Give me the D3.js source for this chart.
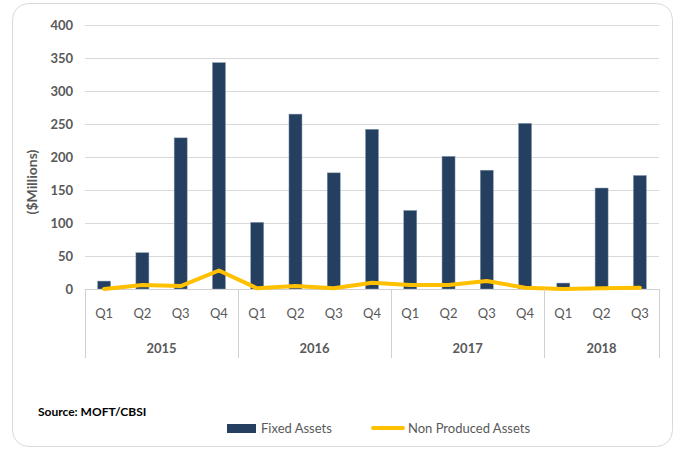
<!DOCTYPE html>
<html>
<head>
<meta charset="utf-8">
<script src="https://cdn.jsdelivr.net/npm/d3@7"></script>
<style>
  body { margin: 0; background: #fff; }
  text { font-family: Lato, "Liberation Sans", sans-serif; }
</style>
</head>
<body>
<div id="chart"></div>
<script>
// quarterly values, $ millions
var years        = ['2015', '2016', '2017', '2018'],
    quarters     = ['Q1', 'Q2', 'Q3', 'Q4', 'Q1', 'Q2', 'Q3', 'Q4', 'Q1', 'Q2', 'Q3', 'Q4', 'Q1', 'Q2', 'Q3'],
    quarterYear  = [0, 0, 0, 0, 1, 1, 1, 1, 2, 2, 2, 2, 3, 3, 3],
    fixedAssets  = [12, 55, 229, 343, 101, 265, 176, 242, 119, 201, 180, 251, 9, 153, 172],
    nonProduced  = [0, 6, 4.5, 28, 1, 4.5, 1, 9.5, 6, 6, 12, 2, 0, 1, 2],
    yTicks       = [0, 50, 100, 150, 200, 250, 300, 350, 400];

var width   = 678,
    height  = 452,
    plotL   = 85,
    plotR   = 659,
    plotT   = 25,
    plotB   = 289,
    grey    = '#595959',
    navy    = '#243F60',
    gold    = '#FFC000';

var svg = d3.select('#chart')
	.append('svg')
	.attr('width', width)
	.attr('height', height);

// rounded frame around the chart
svg.append('rect')
	.attr('x', 12.5)
	.attr('y', 3.5)
	.attr('width', 660)
	.attr('height', 443)
	.attr('rx', 16)
	.attr('fill', '#fff')
	.attr('stroke', '#d9d9d9');

var idx = d3.range(quarters.length);

var x = d3.scaleBand()
	.domain(idx)
	.range([plotL, plotR])
	.paddingInner(0.66)
	.paddingOuter(0.33);

var y = d3.scaleLinear()
	.domain([0, 400])
	.range([plotB, plotT]);

// gridlines
svg.append('g')
	.selectAll('line')
	.data(yTicks.slice(1))
	.enter()
	.append('line')
	.attr('x1', plotL)
	.attr('x2', plotR)
	.attr('y1', function(d){ return Math.round(y(d)) + 0.5; })
	.attr('y2', function(d){ return Math.round(y(d)) + 0.5; })
	.attr('stroke', '#d9d9d9')
	.attr('stroke-width', 1);

// y axis labels
var yAxis = svg.append('g')
	.attr('transform', 'translate(' + (plotL - 12) + ',0)')
	.call(d3.axisLeft(y).tickValues(yTicks).tickSize(0).tickPadding(0));
yAxis.select('.domain').remove();
yAxis.selectAll('text')
	.attr('font-size', 13)
	.attr('font-weight', 'bold')
	.attr('fill', grey)
	.style('font-family', 'Lato, "Liberation Sans", sans-serif');

svg.append('text')
	.attr('transform', 'translate(37,182) rotate(-90)')
	.attr('text-anchor', 'middle')
	.attr('font-size', 14)
	.attr('font-weight', 'bold')
	.attr('fill', grey)
	.text('($Millions)');

// bars
svg.append('g')
	.selectAll('rect')
	.data(fixedAssets)
	.enter()
	.append('rect')
	.attr('x', function(d, i){ return x(i); })
	.attr('y', function(d){ return y(d); })
	.attr('width', x.bandwidth())
	.attr('height', function(d){ return y(0) - y(d); })
	.attr('fill', navy)
	.attr('stroke', '#8a9bb0')
	.attr('stroke-width', 0.5);

// x axis baseline
svg.append('line')
	.attr('x1', plotL)
	.attr('x2', plotR)
	.attr('y1', plotB + 0.5)
	.attr('y2', plotB + 0.5)
	.attr('stroke', '#d0d0d0');

// line series
var line = d3.line()
	.x(function(d, i){ return x(i) + x.bandwidth() / 2; })
	.y(function(d){ return y(d); });

svg.append('path')
	.datum(nonProduced)
	.attr('d', line)
	.attr('fill', 'none')
	.attr('stroke', gold)
	.attr('stroke-width', 4)
	.attr('stroke-linejoin', 'round')
	.attr('stroke-linecap', 'round');

// quarter labels
svg.append('g')
	.selectAll('text')
	.data(quarters)
	.enter()
	.append('text')
	.attr('x', function(d, i){ return x(i) + x.bandwidth() / 2; })
	.attr('y', 318)
	.attr('text-anchor', 'middle')
	.attr('font-size', 13)
	.attr('fill', grey)
	.text(function(d){ return d; });

// year groups: span from the first to the last quarter of each year
var half = x.step() / 2;
var yearRanges = years.map(function(yr, k){
	var members = idx.filter(function(i){ return quarterYear[i] === k; });
	var c0 = x(members[0]) + x.bandwidth() / 2,
	    c1 = x(members[members.length - 1]) + x.bandwidth() / 2;
	return { year: yr, x0: Math.max(plotL, c0 - half), x1: Math.min(plotR, c1 + half) };
});

var sepX = [plotL].concat(yearRanges.map(function(r){ return r.x1; }));
svg.append('g')
	.selectAll('line')
	.data(sepX)
	.enter()
	.append('line')
	.attr('x1', function(d){ return Math.round(d) + 0.5; })
	.attr('x2', function(d){ return Math.round(d) + 0.5; })
	.attr('y1', plotB)
	.attr('y2', 358)
	.attr('stroke', '#d0d0d0');

svg.append('g')
	.selectAll('text')
	.data(yearRanges)
	.enter()
	.append('text')
	.attr('x', function(d){ return (d.x0 + d.x1) / 2; })
	.attr('y', 353)
	.attr('text-anchor', 'middle')
	.attr('font-size', 13)
	.attr('font-weight', 'bold')
	.attr('fill', grey)
	.text(function(d){ return d.year; });

// source note
svg.append('text')
	.attr('x', 38)
	.attr('y', 416)
	.attr('font-size', 12)
	.attr('font-weight', 'bold')
	.attr('fill', '#000')
	.text('Source: MOFT/CBSI');

// legend
svg.append('rect')
	.attr('x', 227)
	.attr('y', 424)
	.attr('width', 29)
	.attr('height', 9)
	.attr('fill', navy);
svg.append('text')
	.attr('x', 261)
	.attr('y', 433)
	.attr('font-size', 13)
	.attr('fill', grey)
	.text('Fixed Assets');

svg.append('line')
	.attr('x1', 373)
	.attr('x2', 403)
	.attr('y1', 428)
	.attr('y2', 428)
	.attr('stroke', gold)
	.attr('stroke-width', 4)
	.attr('stroke-linecap', 'round');
svg.append('text')
	.attr('x', 408)
	.attr('y', 433)
	.attr('font-size', 13)
	.attr('fill', grey)
	.text('Non Produced Assets');
</script>
</body>
</html>
